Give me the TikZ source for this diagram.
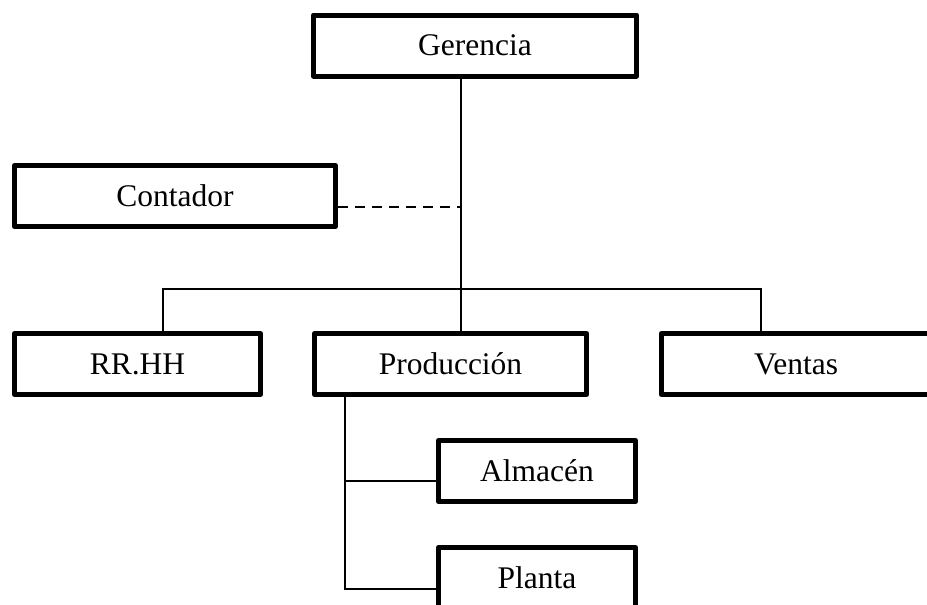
\documentclass[tikz,border=0pt]{standalone}
\usepackage{fontspec}
\setmainfont{Liberation Serif}
\begin{document}
\begin{tikzpicture}[x=1pt, y=-1pt,
  every node/.style={font=\fontsize{31.5}{36}\selectfont, align=center},
  unit/.style={draw, line width=5pt, line join=round, inner sep=0pt, minimum height=61pt},
  link/.style={line width=1.5pt}]
  \useasboundingbox (0,0) rectangle (927,605);
  \node[unit, minimum width=323pt] (ger) at (475,45.5) {Gerencia};
  \node[unit, minimum width=321pt] (con) at (175,196) {Contador};
  \node[unit, minimum width=246pt] (rrhh) at (137.5,364) {RR.HH};
  \node[unit, minimum width=272pt] (prod) at (450.5,364) {Producción};
  \node[unit, minimum width=269pt] (ven) at (796,364) {Ventas};
  \node[unit, minimum width=197pt] (alm) at (537,471) {Almacén};
  \node[unit, minimum width=197pt] (pla) at (537,578) {Planta};
  \coordinate (mid) at (461,289);
  \coordinate (left) at (163,289);
  \coordinate (right) at (761,289);
  \coordinate (staff) at (461,207);
  \coordinate (s1) at (345,481);
  \coordinate (s2) at (345,589);
  \draw[link] (ger.south -| mid) -- (prod.north -| mid);
  \draw[link] (rrhh.north -| left) -- (left) -- (right) -- (ven.north -| right);
  \draw[link, dash pattern=on 10pt off 7pt] (con.east |- staff) -- (staff);
  \draw[link] (prod.south -| s1) -- (s2) -- (pla.west |- s2);
  \draw[link] (s1) -- (alm.west |- s1);
\end{tikzpicture}
\end{document}
